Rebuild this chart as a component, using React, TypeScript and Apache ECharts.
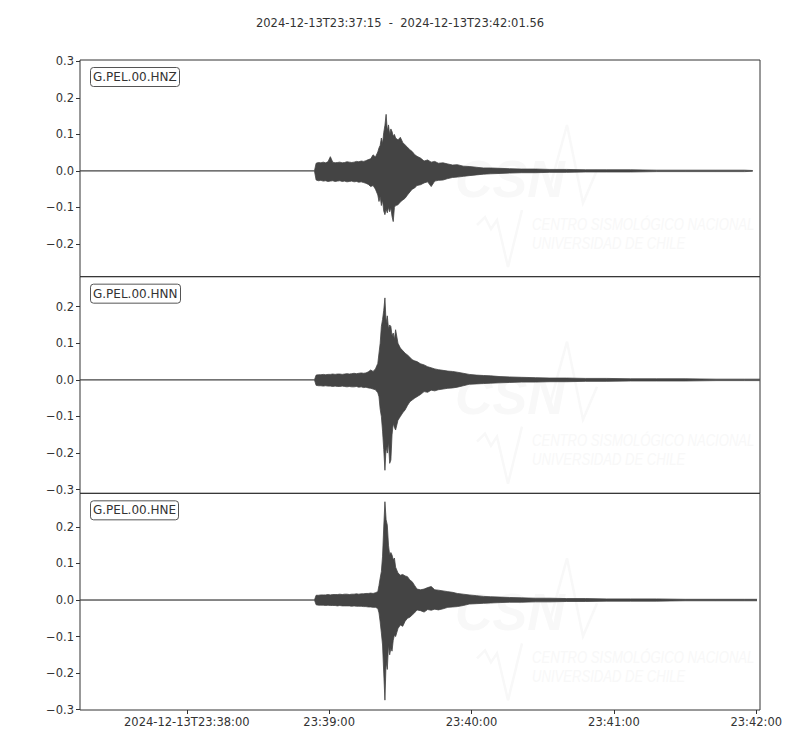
import { useEffect, useRef } from 'react';
import * as echarts from 'echarts';

const startLabel = '2024-12-13T23:37:15';
const endLabel = '2024-12-13T23:42:01.56';
const duration = 286.56; // seconds after 23:37:15

const channels = ['G.PEL.00.HNZ', 'G.PEL.00.HNN', 'G.PEL.00.HNE'];
const traceEnds = [283.5, 286.5, 285.3];
const yRanges = [
  [-0.29, 0.304],
  [-0.31, 0.282],
  [-0.301, 0.292],
];

const timeTicks = [45, 105, 165, 225, 285];
const timeTickLabels = ['2024-12-13T23:38:00', '23:39:00', '23:40:00', '23:41:00', '23:42:00'];
const ampTicks = [-0.3, -0.2, -0.1, 0, 0.1, 0.2, 0.3];

// envelope of each trace (max / min over the window), seconds after start
const times = [
  0, 98.8,
  99.5, 100.5, 101.5, 102.5, 103.5, 104.5, 105.5, 106.5, 107.5, 108.5, 109.5, 110.5, 111.5, 112.5, 113.5, 114.5,
  115.5, 116.5, 117.5, 118.5, 119.5, 120.5, 121.5, 122.5, 123.5, 124.5, 125.5,
  126, 126.5, 127, 127.5, 128, 128.5, 129, 129.5, 130, 130.5, 131, 131.5, 132, 132.5, 133, 134, 135, 136, 137, 138,
  139, 140, 141, 142, 143.5, 145, 146.5, 148, 149.5, 151, 153, 155, 157, 159, 161.5, 164, 167, 170, 173, 177, 181,
  186, 192, 198, 205, 213, 222, 232, 243, 255, 268, 280, 286.5,
];

const hnzHigh = [
  0, 0,
  0.021, 0.023, 0.022, 0.024, 0.022, 0.025, 0.039, 0.024, 0.022, 0.023, 0.024, 0.022, 0.023, 0.025, 0.024, 0.023,
  0.024, 0.026, 0.025, 0.027, 0.026, 0.028, 0.031, 0.033, 0.044, 0.038, 0.052,
  0.063, 0.07, 0.09, 0.075, 0.105, 0.125, 0.155, 0.11, 0.126, 0.1, 0.115, 0.108, 0.095, 0.1, 0.09, 0.085, 0.092,
  0.078, 0.071, 0.065, 0.058, 0.053, 0.045, 0.04, 0.035, 0.027, 0.03, 0.024, 0.026, 0.021, 0.022, 0.019, 0.016,
  0.017, 0.013, 0.012, 0.01, 0.008, 0.008, 0.007, 0.006, 0.005, 0.005, 0.004, 0.004, 0.003, 0.003, 0.003, 0.002,
  0.002, 0.002, 0.002, 0.001,
];
const hnzLow = [
  0, 0,
  -0.025, -0.027, -0.026, -0.028, -0.027, -0.029, -0.028, -0.027, -0.029, -0.028, -0.027, -0.029, -0.028, -0.03,
  -0.029, -0.028, -0.03, -0.029, -0.031, -0.03, -0.032, -0.034, -0.037, -0.043, -0.04, -0.05, -0.066,
  -0.084, -0.07, -0.095, -0.08, -0.11, -0.12, -0.105, -0.115, -0.1, -0.112, -0.101, -0.125, -0.139, -0.1, -0.095,
  -0.093, -0.085, -0.08, -0.075, -0.066, -0.058, -0.05, -0.047, -0.04, -0.038, -0.033, -0.03, -0.043, -0.028,
  -0.026, -0.025, -0.021, -0.018, -0.017, -0.015, -0.013, -0.011, -0.009, -0.008, -0.007, -0.006, -0.005, -0.005,
  -0.004, -0.004, -0.003, -0.003, -0.003, -0.002, -0.002, -0.002, -0.002, -0.001,
];

const hnnHigh = [
  0, 0,
  0.013, 0.014, 0.014, 0.015, 0.014, 0.015, 0.015, 0.016, 0.015, 0.016, 0.016, 0.015, 0.016, 0.017, 0.016, 0.017,
  0.018, 0.017, 0.018, 0.019, 0.018, 0.019, 0.022, 0.027, 0.023, 0.03, 0.045,
  0.073, 0.1, 0.146, 0.165, 0.19, 0.224, 0.155, 0.175, 0.14, 0.15, 0.146, 0.12, 0.128, 0.11, 0.137, 0.1, 0.087,
  0.08, 0.073, 0.068, 0.062, 0.055, 0.052, 0.05, 0.044, 0.041, 0.036, 0.033, 0.03, 0.028, 0.026, 0.024, 0.023,
  0.021, 0.018, 0.015, 0.013, 0.012, 0.011, 0.009, 0.008, 0.007, 0.006, 0.005, 0.005, 0.004, 0.004, 0.003, 0.003,
  0.003, 0.002, 0.002, 0.002,
];
const hnnLow = [
  0, 0,
  -0.015, -0.016, -0.016, -0.017, -0.016, -0.017, -0.017, -0.018, -0.017, -0.018, -0.018, -0.017, -0.018, -0.019,
  -0.018, -0.019, -0.019, -0.018, -0.02, -0.019, -0.021, -0.02, -0.022, -0.023, -0.025, -0.027, -0.035,
  -0.046, -0.08, -0.1, -0.14, -0.19, -0.247, -0.183, -0.2, -0.17, -0.228, -0.219, -0.15, -0.119, -0.13, -0.137,
  -0.11, -0.1, -0.09, -0.082, -0.07, -0.06, -0.055, -0.05, -0.046, -0.04, -0.032, -0.034, -0.028, -0.03, -0.027,
  -0.025, -0.023, -0.022, -0.02, -0.016, -0.012, -0.011, -0.01, -0.009, -0.008, -0.007, -0.006, -0.006, -0.005,
  -0.005, -0.004, -0.004, -0.003, -0.003, -0.003, -0.002, -0.002, -0.002,
];

const hneHigh = [
  0, 0,
  0.013, 0.013, 0.014, 0.014, 0.014, 0.015, 0.014, 0.015, 0.015, 0.015, 0.016, 0.015, 0.016, 0.016, 0.015, 0.016,
  0.016, 0.017, 0.016, 0.017, 0.017, 0.018, 0.018, 0.019, 0.018, 0.02, 0.023,
  0.04, 0.06, 0.078, 0.12, 0.2, 0.269, 0.22, 0.205, 0.15, 0.123, 0.13, 0.123, 0.11, 0.115, 0.09, 0.074, 0.068, 0.07,
  0.066, 0.064, 0.055, 0.05, 0.04, 0.03, 0.028, 0.03, 0.034, 0.037, 0.028, 0.027, 0.025, 0.023, 0.021, 0.018,
  0.016, 0.014, 0.012, 0.01, 0.009, 0.008, 0.007, 0.006, 0.005, 0.005, 0.004, 0.004, 0.003, 0.003, 0.003, 0.002,
  0.002, 0.002, 0.002,
];
const hneLow = [
  0, 0,
  -0.013, -0.014, -0.014, -0.014, -0.015, -0.014, -0.015, -0.015, -0.015, -0.016, -0.015, -0.016, -0.016, -0.016,
  -0.016, -0.017, -0.016, -0.017, -0.017, -0.017, -0.018, -0.018, -0.019, -0.019, -0.02, -0.02, -0.023,
  -0.035, -0.06, -0.09, -0.123, -0.2, -0.274, -0.169, -0.19, -0.123, -0.15, -0.132, -0.14, -0.11, -0.096, -0.1,
  -0.078, -0.068, -0.072, -0.058, -0.05, -0.047, -0.041, -0.035, -0.027, -0.029, -0.033, -0.026, -0.028, -0.025,
  -0.027, -0.024, -0.02, -0.019, -0.018, -0.015, -0.011, -0.01, -0.009, -0.008, -0.007, -0.006, -0.006, -0.005,
  -0.005, -0.004, -0.004, -0.003, -0.003, -0.003, -0.002, -0.002, -0.002, -0.002,
];

const highs = [hnzHigh, hnnHigh, hneHigh];
const lows = [hnzLow, hnnLow, hneLow];

const traceColor = '#444';
const inkColor = '#333';
const font = '"DejaVu Sans", sans-serif';
const markFill = '#f8f8f8';

const gridTop = 60;
const gridHeight = 216.67;

const ampLabel = (v: number) => {
  if (Math.abs(v) < 1e-9) return '0.0';
  return (v < 0 ? '\u2212' : '') + Math.abs(v).toFixed(1);
};

const toPairs = (vals: number[], end: number) =>
  times.map((t, i) => [i === times.length - 1 ? end : t, vals[i]]);

// faint CSN logo behind each trace
const watermark = (top: number) => ({
  type: 'group',
  x: 455,
  y: top + 65,
  silent: true,
  z: 0,
  children: [
    {
      type: 'text',
      x: 0,
      y: 28,
      style: { text: 'CSN', fill: markFill, font: 'italic bold 52px "Liberation Sans", sans-serif' },
    },
    {
      type: 'polyline',
      shape: { points: [[95, 62], [112, 0], [128, 78], [142, 45]] },
      style: { stroke: markFill, lineWidth: 2.5, fill: null },
    },
    {
      type: 'polyline',
      shape: { points: [[22, 100], [30, 92], [36, 104], [42, 95], [53, 142], [67, 85]] },
      style: { stroke: markFill, lineWidth: 2.5, fill: null },
    },
    {
      type: 'text',
      x: 77,
      y: 90,
      scaleX: 0.77,
      style: { text: 'CENTRO SISMOLÓGICO NACIONAL', fill: markFill, font: 'italic 17px "Liberation Sans", sans-serif' },
    },
    {
      type: 'text',
      x: 77,
      y: 109,
      scaleX: 0.77,
      style: { text: 'UNIVERSIDAD DE CHILE', fill: markFill, font: 'italic 17px "Liberation Sans", sans-serif' },
    },
  ],
});

const App = () => {
  const chartDom = useRef<HTMLDivElement | null>(null);

  useEffect(() => {
    if (!chartDom.current) return;
    const myChart = echarts.init(chartDom.current, null, { renderer: 'svg' });

    const grids = channels.map((_, i) => ({
      left: 80,
      width: 680,
      top: gridTop + i * gridHeight,
      height: gridHeight,
      show: true,
      borderColor: inkColor,
      borderWidth: 1,
      backgroundColor: 'transparent',
      z: 1,
    }));

    const xAxes = channels.map((_, i) => {
      const last = i === channels.length - 1;
      return {
        type: 'value',
        gridIndex: i,
        min: 0,
        max: duration,
        show: last,
        axisLine: { show: false, onZero: false },
        splitLine: { show: false },
        axisTick: {
          show: last,
          length: 4,
          customValues: timeTicks,
          lineStyle: { color: inkColor },
        },
        axisLabel: {
          show: last,
          customValues: timeTicks,
          margin: 6,
          color: inkColor,
          fontFamily: font,
          fontSize: 11.5,
          formatter: (v: number) => timeTickLabels[timeTicks.indexOf(Math.round(v))] ?? '',
        },
      };
    });

    const yAxes = channels.map((_, i) => {
      const [lo, hi] = yRanges[i];
      const ticks = ampTicks.filter((v) => v >= lo - 1e-9 && v <= hi + 1e-9);
      return {
        type: 'value',
        gridIndex: i,
        min: lo,
        max: hi,
        axisLine: { show: false, onZero: false },
        splitLine: { show: false },
        axisTick: { show: true, length: 4, customValues: ticks, lineStyle: { color: inkColor } },
        axisLabel: {
          customValues: ticks,
          margin: 6,
          color: inkColor,
          fontFamily: font,
          fontSize: 11.5,
          formatter: ampLabel,
        },
      };
    });

    const series: any[] = [];
    channels.forEach((name, i) => {
      [highs[i], lows[i]].forEach((vals, k) => {
        series.push({
          name: `${name}-${k === 0 ? 'max' : 'min'}`,
          type: 'line',
          xAxisIndex: i,
          yAxisIndex: i,
          data: toPairs(vals, traceEnds[i]),
          showSymbol: false,
          symbol: 'none',
          symbolSize: 0,
          silent: true,
          emphasis: { disabled: true },
          z: 3,
          lineStyle: { color: traceColor, width: 0.8 },
          areaStyle: { color: traceColor, opacity: 1, origin: 0 },
        });
      });
    });

    const option = {
      animation: false,
      backgroundColor: '#fff',
      title: [
        {
          text: `${startLabel}  -  ${endLabel}`,
          left: 'center',
          top: 12,
          textStyle: { color: inkColor, fontFamily: font, fontSize: 11.5, fontWeight: 'normal' },
        },
        ...channels.map((name, i) => ({
          text: name,
          left: 90,
          top: gridTop + i * gridHeight + 7,
          padding: [3, 3, 3, 3],
          borderColor: '#555',
          borderWidth: 1,
          borderRadius: 3,
          backgroundColor: '#fff',
          textStyle: { color: inkColor, fontFamily: font, fontSize: 12, fontWeight: 'normal', lineHeight: 14 },
        })),
      ],
      graphic: channels.map((_, i) => watermark(gridTop + i * gridHeight)),
      grid: grids,
      xAxis: xAxes,
      yAxis: yAxes,
      series,
    };

    myChart.setOption(option);

    return () => {
      myChart.dispose();
    };
  }, []);

  return (
    <div style={{ position: 'fixed', left: 0, top: 0, width: 800, height: 750, background: '#fff' }}>
      <div ref={chartDom} style={{ width: '100%', height: '100%' }} />
    </div>
  );
};

export default App;
